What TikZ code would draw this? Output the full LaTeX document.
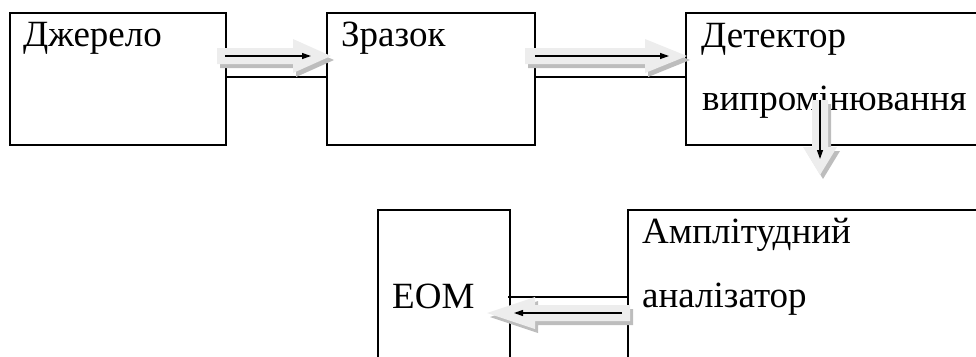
\documentclass[tikz,border=0pt]{standalone}
\usepackage{fontspec}
\setmainfont{Liberation Serif}
\usetikzlibrary{arrows.meta}
\definecolor{fatfill}{gray}{0.93}
\definecolor{fatshadow}{gray}{0.74}
\tikzset{
  box/.style={draw=black, line width=1.5pt, rectangle, inner sep=0pt, anchor=north west},
  lbl/.style={anchor=base west, inner sep=0pt, font=\fontsize{37}{40}\selectfont},
  link/.style={line width=1.5pt},
  thin arrow/.style={line width=1.2pt, -{Triangle[length=9pt,width=6pt]}},
}
% #1 tail coordinate, #2 rotation, #3 length, #4 head length, #5 head half width
\newcommand\fatarr[5]{%
  \fill[fatshadow, shift={#1}, xshift=3pt, yshift=-4pt, rotate=#2] (0,-8) -- ({#3-#4},-8) -- ({#3-#4},-#5) -- (#3,0) -- ({#3-#4},#5) -- ({#3-#4},8) -- (0,8) -- cycle;
  \fill[fatfill, shift={#1}, rotate=#2] (0,-8) -- ({#3-#4},-8) -- ({#3-#4},-#5) -- (#3,0) -- ({#3-#4},#5) -- ({#3-#4},8) -- (0,8) -- cycle;
}
\begin{document}
\begin{tikzpicture}[x=1pt,y=-1pt]
\useasboundingbox (0,0) rectangle (976,356);
\clip (0,0) rectangle (976,356);
% boxes
\node[box, minimum width=216pt, minimum height=132pt] (src) at (9,12) {};
\node[box, minimum width=208pt, minimum height=132pt] (smp) at (326,12) {};
\node[box, minimum width=330pt, minimum height=132pt] (det) at (685,12) {};
\node[box, minimum width=132pt, minimum height=180pt] (eom) at (377,209) {};
\node[box, minimum width=370pt, minimum height=180pt] (amp) at (627,209) {};
% connecting lines
\coordinate (l1a) at (225,77); \coordinate (l1b) at (326,77);
\coordinate (l2a) at (534,77); \coordinate (l2b) at (685,77);
\coordinate (l3a) at (508,297); \coordinate (l3b) at (627,297);
\draw[link] (l1a) -- (l1b);
\draw[link] (l2a) -- (l2b);
\draw[link] (l3a) -- (l3b);
% labels
\node[lbl] (t1) at (23,46) {Джерело};
\node[lbl] (t2) at (341,46) {Зразок};
\node[lbl] (t3) at (701,47) {Детектор};
\node[lbl] (t4) at (702,110) {випромінювання};
\node[lbl] (t5) at (392,308) {ЕОМ};
\node[lbl] (t6) at (642,243) {Амплітудний};
\node[lbl] (t7) at (642,307) {аналізатор};
% fat arrows
\coordinate (f1) at (217,56);
\coordinate (f2) at (525,56);
\coordinate (f3) at (820,100);
\coordinate (f4) at (630,313);
\fatarr{(f1)}{0}{114}{38}{17}
\fatarr{(f2)}{0}{162}{42}{17}
\fatarr{(f3)}{-90}{75}{28}{17}
\fatarr{(f4)}{180}{143}{48}{16}
% thin arrows
\coordinate (a1s) at (225,56); \coordinate (a1e) at (311,56);
\coordinate (a2s) at (535,56); \coordinate (a2e) at (669,56);
\coordinate (a3s) at (820,100); \coordinate (a3e) at (820,159);
\coordinate (a4s) at (622,313); \coordinate (a4e) at (514,313);
\draw[thin arrow] (a1s) -- (a1e);
\draw[thin arrow] (a2s) -- (a2e);
\draw[thin arrow] (a3s) -- (a3e);
\draw[thin arrow] (a4s) -- (a4e);
\end{tikzpicture}
\end{document}
